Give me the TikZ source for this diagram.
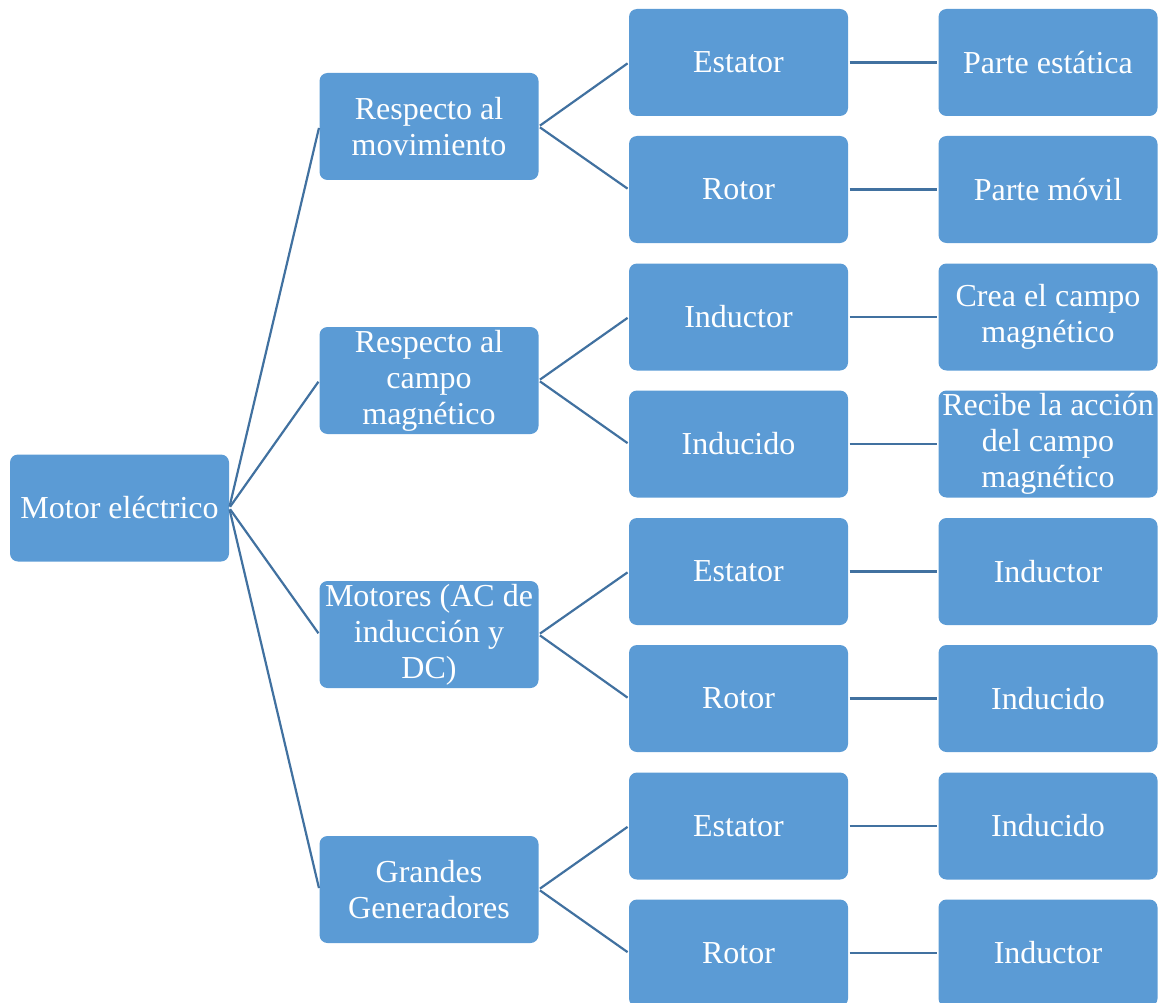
\documentclass[tikz,border=0pt]{standalone}
\usepackage{fontspec}
\setmainfont{Liberation Serif}
\definecolor{boxBlue}{RGB}{91, 155, 213}
\definecolor{lineBlue}{RGB}{65, 113, 160}

\begin{document}
\begin{tikzpicture}[x=1pt, y=-1pt]
    \tikzstyle{box} = [fill=boxBlue, rounded corners=8pt, minimum width=219pt, minimum height=107pt, inner xsep=1pt, inner ysep=0pt, text=white, font=\fontsize{32}{36}\selectfont, align=center]
    \tikzstyle{link} = [lineBlue, line width=2.2pt, shorten <=1.5pt, shorten >=1.5pt]
    \useasboundingbox (0,0) rectangle (1164,1003);

    % Root
    \node[box] (root) at (119.5,508) {Motor eléctrico};

    % Criteria
    \node[box] (c1) at (429,126.5) {Respecto al\\movimiento};
    \node[box] (c2) at (429,380.5) {Respecto al\\campo\\magnético};
    \node[box] (c3) at (429,634.5) {Motores (AC de\\inducción y\\DC)};
    \node[box] (c4) at (429,889.5) {Grandes\\Generadores};

    % Parts
    \node[box] (p1) at (738.5,62.5) {Estator};
    \node[box] (p2) at (738.5,189.5) {Rotor};
    \node[box] (p3) at (738.5,317) {Inductor};
    \node[box] (p4) at (738.5,444) {Inducido};
    \node[box] (p5) at (738.5,571.5) {Estator};
    \node[box] (p6) at (738.5,698.5) {Rotor};
    \node[box] (p7) at (738.5,826) {Estator};
    \node[box] (p8) at (738.5,953) {Rotor};

    % Descriptions
    \node[box] (d1) at (1048,62.5) {Parte estática};
    \node[box] (d2) at (1048,189.5) {Parte móvil};
    \node[box] (d3) at (1048,317) {Crea el campo\\magnético};
    \node[box] (d4) at (1048,444) {Recibe la acción\\del campo\\magnético};
    \node[box] (d5) at (1048,571.5) {Inductor};
    \node[box] (d6) at (1048,698.5) {Inducido};
    \node[box] (d7) at (1048,826) {Inducido};
    \node[box] (d8) at (1048,953) {Inductor};

    % Links
    \foreach \c in {c1,c2,c3,c4}
        \draw[link] (root.east) -- (\c.west);
    \draw[link] (c1.east) -- (p1.west);
    \draw[link] (c1.east) -- (p2.west);
    \draw[link] (c2.east) -- (p3.west);
    \draw[link] (c2.east) -- (p4.west);
    \draw[link] (c3.east) -- (p5.west);
    \draw[link] (c3.east) -- (p6.west);
    \draw[link] (c4.east) -- (p7.west);
    \draw[link] (c4.east) -- (p8.west);
    \foreach \i in {1,...,8}
        \draw[link] (p\i.east) -- (d\i.west);
\end{tikzpicture}
\end{document}
